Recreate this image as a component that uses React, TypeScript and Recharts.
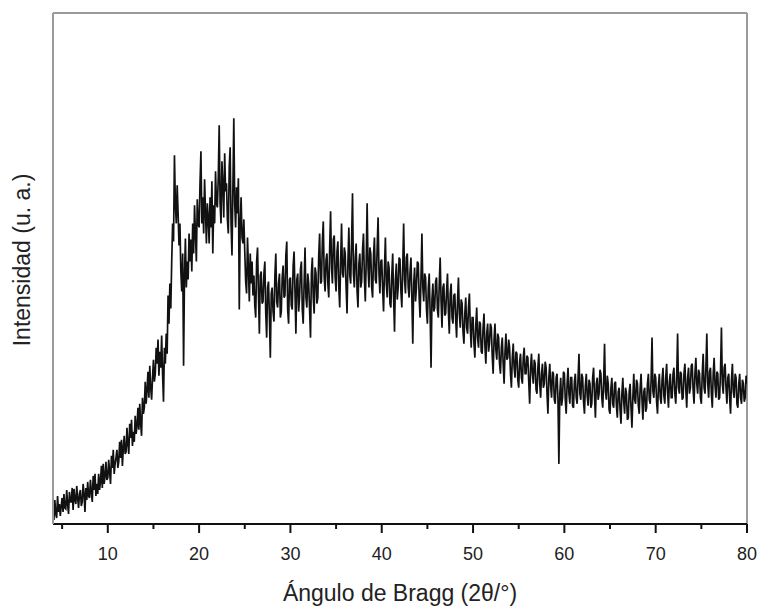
import { LineChart, Line, XAxis, YAxis, ReferenceLine } from 'recharts';

// XRD scan, 2θ from 4° to 80° every 0.1°
const angleStart = 4;
const angleStep = 0.1;

// intensity (a.u.), one row per degree: x.0 ... x.9
const intensity = [
  14, 4, 24, 10, 6, 28, 12, 20, 8, 18, // 4
  26, 12, 30, 16, 15, 34, 20, 10, 32, 22, // 5
  22, 36, 14, 35, 24, 20, 38, 26, 16, 30, // 6
  34, 18, 22, 40, 30, 12, 36, 24, 42, 28, // 7
  26, 44, 32, 22, 48, 34, 50, 28, 40, 30, // 8
  50, 34, 42, 58, 36, 60, 40, 48, 62, 44, // 9
  46, 64, 52, 40, 68, 56, 74, 50, 60, 66, // 10
  74, 56, 62, 82, 66, 84, 58, 76, 88, 70, // 11
  72, 96, 80, 70, 100, 86, 104, 78, 92, 82, // 12
  108, 90, 98, 116, 94, 120, 100, 88, 126, 110, // 13
  116, 142, 120, 134, 152, 126, 158, 136, 124, 146, // 14
  164, 142, 150, 176, 160, 184, 148, 172, 156, 188, // 15
  150, 122, 176, 160, 190, 170, 228, 200, 240, 215, // 16
  262, 300, 282, 368, 320, 300, 338, 310, 278, 300, // 17
  252, 232, 270, 158, 248, 285, 236, 262, 244, 290, // 18
  262, 284, 252, 300, 270, 318, 290, 262, 324, 300, // 19
  296, 340, 372, 300, 326, 290, 344, 312, 280, 320, // 20
  306, 280, 326, 296, 342, 270, 318, 300, 352, 320, // 21
  316, 346, 398, 320, 300, 362, 338, 306, 370, 332, // 22
  340, 304, 290, 356, 376, 300, 268, 334, 405, 320, // 23
  296, 336, 310, 345, 214, 300, 326, 286, 280, 304, // 24
  272, 242, 230, 286, 256, 222, 270, 240, 262, 228, // 25
  248, 218, 206, 262, 276, 230, 190, 248, 252, 220, // 26
  222, 250, 262, 210, 186, 236, 242, 206, 166, 230, // 27
  236, 212, 202, 248, 270, 222, 216, 240, 250, 206, // 28
  212, 246, 258, 226, 228, 268, 282, 214, 200, 244, // 29
  246, 218, 214, 258, 272, 232, 190, 244, 250, 212, // 30
  226, 254, 262, 214, 200, 240, 276, 226, 216, 250, // 31
  240, 214, 186, 250, 266, 226, 210, 256, 250, 220, // 32
  226, 268, 290, 240, 242, 282, 302, 246, 232, 264, // 33
  270, 240, 226, 276, 312, 256, 240, 284, 288, 246, // 34
  232, 272, 282, 236, 216, 262, 300, 250, 246, 276, // 35
  270, 236, 210, 262, 296, 248, 240, 282, 330, 250, // 36
  236, 266, 280, 232, 216, 260, 270, 236, 242, 274, // 37
  290, 246, 222, 262, 320, 256, 236, 276, 270, 236, // 38
  226, 268, 286, 244, 240, 276, 306, 250, 230, 262, // 39
  264, 234, 212, 254, 286, 240, 226, 262, 256, 220, // 40
  216, 248, 270, 226, 192, 244, 260, 224, 236, 266, // 41
  264, 232, 216, 256, 300, 244, 230, 266, 270, 236, // 42
  226, 252, 266, 226, 180, 240, 256, 222, 236, 262, // 43
  260, 226, 206, 246, 290, 236, 222, 250, 246, 214, // 44
  200, 236, 250, 210, 156, 224, 240, 212, 216, 242, // 45
  246, 214, 206, 240, 266, 222, 196, 236, 240, 208, // 46
  210, 232, 250, 212, 190, 230, 240, 206, 200, 228, // 47
  230, 204, 186, 222, 246, 210, 196, 224, 220, 192, // 48
  180, 210, 226, 196, 190, 216, 230, 196, 176, 206, // 49
  206, 180, 166, 198, 216, 186, 176, 202, 200, 172, // 50
  170, 196, 210, 178, 160, 190, 200, 172, 180, 200, // 51
  196, 168, 150, 184, 200, 174, 164, 190, 186, 160, // 52
  150, 176, 186, 160, 140, 172, 190, 164, 166, 184, // 53
  176, 150, 136, 166, 180, 156, 146, 172, 170, 144, // 54
  136, 162, 170, 146, 140, 166, 176, 150, 150, 168, // 55
  166, 142, 120, 156, 170, 150, 140, 164, 160, 134, // 56
  130, 156, 170, 140, 126, 150, 160, 136, 140, 162, // 57
  156, 130, 110, 146, 160, 138, 126, 152, 150, 124, // 58
  120, 146, 150, 124, 60, 130, 146, 118, 126, 152, // 59
  150, 124, 110, 140, 156, 130, 120, 146, 146, 118, // 60
  116, 142, 150, 126, 120, 146, 170, 130, 124, 150, // 61
  146, 122, 110, 138, 150, 128, 118, 144, 140, 116, // 62
  120, 146, 156, 128, 106, 140, 146, 124, 130, 154, // 63
  150, 126, 116, 142, 180, 132, 124, 148, 140, 114, // 64
  110, 136, 146, 120, 116, 140, 142, 118, 106, 132, // 65
  136, 114, 100, 130, 146, 122, 110, 136, 130, 104, // 66
  106, 132, 140, 116, 96, 126, 150, 124, 120, 144, // 67
  140, 118, 110, 136, 150, 124, 104, 132, 136, 112, // 68
  116, 140, 150, 124, 120, 144, 186, 132, 126, 150, // 69
  146, 122, 110, 138, 150, 126, 120, 144, 156, 128, // 70
  120, 146, 160, 132, 116, 142, 150, 126, 126, 150, // 71
  156, 130, 120, 146, 190, 136, 130, 152, 150, 124, // 72
  126, 150, 160, 134, 116, 146, 156, 130, 136, 158, // 73
  160, 134, 120, 150, 166, 140, 130, 154, 150, 126, // 74
  120, 150, 170, 136, 130, 156, 190, 140, 126, 152, // 75
  156, 130, 116, 150, 166, 138, 126, 152, 150, 124, // 76
  126, 152, 196, 140, 130, 156, 160, 136, 120, 146, // 77
  150, 126, 110, 144, 160, 132, 126, 150, 146, 120, // 78
  116, 140, 150, 126, 120, 144, 140, 122, 126, 148, // 79
  140, // 80
];

const xTicks = [5, 10, 15, 20, 25, 30, 35, 40, 45, 50, 55, 60, 65, 70, 75, 80];

const data = intensity.map((v, i) => ({
  angle: +(angleStart + i * angleStep).toFixed(1),
  intensity: v,
}));

const FONT = '"Liberation Sans", Arial, sans-serif';
const AXIS_Y = 524;

function BottomTick({ x, payload }: { x?: number; payload?: { value: number } }) {
  const v = payload ? payload.value : 0;
  const major = v % 10 === 0;
  return (
    <g>
      <line x1={x} x2={x} y1={AXIS_Y} y2={AXIS_Y + (major ? 9 : 5)} stroke="#111" strokeWidth={2} />
      {major && (
        <text x={x} y={560} textAnchor="middle" fontSize={18} fontFamily={FONT} fill="#222">
          {v}
        </text>
      )}
    </g>
  );
}

export default function App() {
  return (
    <div style={{ position: 'fixed', left: 0, top: 0, background: '#fff' }}>
      <LineChart width={761} height={609} data={data} margin={{ top: 13, right: 14, bottom: 0, left: 0 }}>
        <XAxis
          dataKey="angle"
          type="number"
          domain={[4, 80]}
          ticks={xTicks}
          interval={0}
          allowDataOverflow
          height={85}
          axisLine={{ stroke: '#111', strokeWidth: 2 }}
          tickLine={false}
          tick={<BottomTick />}
          label={() => (
            <text x={400} y={601} textAnchor="middle" fontSize={23} fontFamily={FONT} fill="#222">
              Ángulo de Bragg (2θ/°)
            </text>
          )}
        />
        <YAxis
          type="number"
          domain={[0, 510]}
          allowDataOverflow
          width={53}
          tick={false}
          tickLine={false}
          axisLine={{ stroke: '#9a9a9a', strokeWidth: 2 }}
          label={() => (
            <text
              x={30}
              y={260}
              transform="rotate(-90, 30, 260)"
              textAnchor="middle"
              fontSize={23}
              fontFamily={FONT}
              fill="#222"
            >
              Intensidad (u. a.)
            </text>
          )}
        />
        <ReferenceLine y={510} stroke="#9a9a9a" strokeWidth={2} />
        <ReferenceLine x={80} stroke="#9a9a9a" strokeWidth={2} />
        <Line
          type="linear"
          dataKey="intensity"
          stroke="#111"
          strokeWidth={1.7}
          dot={false}
          isAnimationActive={false}
        />
      </LineChart>
    </div>
  );
}
